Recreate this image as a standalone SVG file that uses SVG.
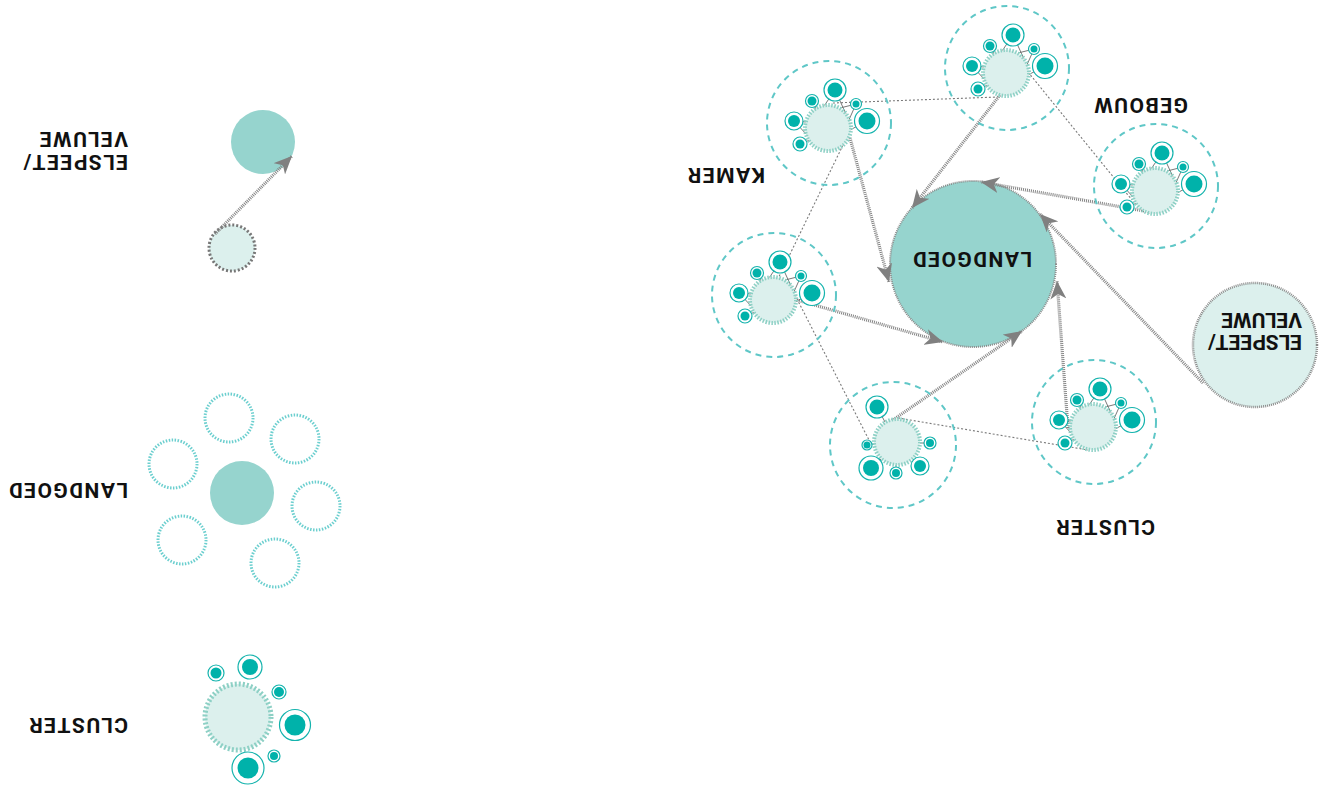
<svg xmlns="http://www.w3.org/2000/svg" xmlns:xlink="http://www.w3.org/1999/xlink" width="1332" height="796" viewBox="0 0 1332 796">
<style>
.lbl{font-family:Roboto,"Liberation Sans",sans-serif;font-weight:700;font-size:21px;letter-spacing:1.5px;fill:#111}
.lbl2{font-family:Roboto,"Liberation Sans",sans-serif;font-weight:700;font-size:21px;letter-spacing:0px;fill:#111}
.outer{fill:none;stroke:#5fc7c7;stroke-width:2;stroke-dasharray:6 5}
.inner{fill:#dcf0ed;stroke:#8dd0c5;stroke-width:4;stroke-dasharray:1.5 1.5}
.ring{fill:#fff;stroke:#14b3ad;stroke-width:1.2}
.dot{fill:#00b2aa}
.sl{stroke:#6a6a6a;stroke-width:0.9;fill:none}
.thick{stroke:#858585;stroke-width:3.2;stroke-dasharray:1 1;fill:none}
.thin{stroke:#7a7a7a;stroke-width:1.1;stroke-dasharray:2 2;fill:none}
.lring{fill:none;stroke:#6ccfcf;stroke-width:3;stroke-dasharray:1.5 1.5}
.solid{fill:#96d4ce}
</style>
<defs>
<marker id="ah" markerWidth="20" markerHeight="16" refX="18" refY="8" orient="auto" markerUnits="userSpaceOnUse">
<path d="M0,0 L18,8 L0,16 L5,8 Z" fill="#808080"/>
</marker>
<g id="clA">
<circle cx="1" cy="-5" r="62" class="outer"/>
<path class="sl" d="M7,-38 L-4,-22 M7,-38 L18,-14 M28,-24 L12,-20 M28,-24 L20,-6 M39,-7 L22,2 M-16,-27 L-12,-19 M-34,-7 L-22,-6 M-34,-7 L-20,8 M-28,16 L-18,12"/>
<circle r="23" class="inner"/>
<circle cx="7" cy="-38" r="11" class="ring"/><circle cx="7" cy="-38" r="7.5" class="dot"/>
<circle cx="-16" cy="-27" r="6.5" class="ring"/><circle cx="-16" cy="-27" r="4.5" class="dot"/>
<circle cx="28" cy="-24" r="5.5" class="ring"/><circle cx="28" cy="-24" r="3.5" class="dot"/>
<circle cx="39" cy="-7" r="12.5" class="ring"/><circle cx="39" cy="-7" r="8.5" class="dot"/>
<circle cx="-34" cy="-7" r="9" class="ring"/><circle cx="-34" cy="-7" r="6" class="dot"/>
<circle cx="-28" cy="16" r="7" class="ring"/><circle cx="-28" cy="16" r="4.5" class="dot"/>
</g>
<g id="clB">
<circle cx="-4" cy="3" r="63" class="outer"/>
<path class="sl" d="M-20,-35 L-12,-20 M-30,3 L-22,2 M33,1 L23,1 M-26,26 L-16,17 M-1,31 L-1,23 M23,24 L15,16"/>
<circle r="23" class="inner"/>
<circle cx="-20" cy="-35" r="11" class="ring"/><circle cx="-20" cy="-35" r="7.5" class="dot"/>
<circle cx="-30" cy="3" r="5" class="ring"/><circle cx="-30" cy="3" r="3.5" class="dot"/>
<circle cx="33" cy="1" r="6" class="ring"/><circle cx="33" cy="1" r="4" class="dot"/>
<circle cx="-26" cy="26" r="12" class="ring"/><circle cx="-26" cy="26" r="8" class="dot"/>
<circle cx="-1" cy="31" r="6" class="ring"/><circle cx="-1" cy="31" r="4" class="dot"/>
<circle cx="23" cy="24" r="9" class="ring"/><circle cx="23" cy="24" r="6" class="dot"/>
</g>
</defs>
<rect width="1332" height="796" fill="#fff"/>

<!-- legend -->
<g id="legend-elspeet">
<circle cx="263" cy="142" r="32" class="solid"/>
<circle cx="232" cy="248" r="23" fill="#dcf0ed" stroke="#777" stroke-width="3" stroke-dasharray="2 2"/>
<line x1="215" y1="234" x2="292" y2="156" class="thick" marker-end="url(#ah)"/>
<text x="128" y="155" class="lbl" transform="rotate(180 128 155)">ELSPEET/</text>
<text x="128" y="132" class="lbl" transform="rotate(180 128 132)">VELUWE</text>
</g>
<g id="legend-landgoed">
<circle cx="242" cy="493" r="32" class="solid"/>
<circle cx="229" cy="418" r="24" class="lring"/>
<circle cx="295" cy="439" r="24" class="lring"/>
<circle cx="316" cy="506" r="24" class="lring"/>
<circle cx="275" cy="563" r="24" class="lring"/>
<circle cx="182" cy="540" r="24" class="lring"/>
<circle cx="173" cy="464" r="24" class="lring"/>
<text x="128" y="483" class="lbl" transform="rotate(180 128 483)">LANDGOED</text>
</g>
<g id="legend-cluster">
<circle cx="238" cy="717" r="33" fill="#dcf0ed" stroke="#8dd0c5" stroke-width="5" stroke-dasharray="2 2"/>
<circle cx="250" cy="667" r="12" class="ring"/><circle cx="250" cy="667" r="8" class="dot"/>
<circle cx="216" cy="673" r="8" class="ring"/><circle cx="216" cy="673" r="5.5" class="dot"/>
<circle cx="279" cy="692" r="7" class="ring"/><circle cx="279" cy="692" r="5" class="dot"/>
<circle cx="295" cy="725" r="15.5" class="ring"/><circle cx="295" cy="725" r="10.5" class="dot"/>
<circle cx="274" cy="756" r="6" class="ring"/><circle cx="274" cy="756" r="4" class="dot"/>
<circle cx="248" cy="768" r="16" class="ring"/><circle cx="248" cy="768" r="10.5" class="dot"/>
<text x="128" y="718" class="lbl" transform="rotate(180 128 718)">CLUSTER</text>
</g>

<!-- main nodes -->
<g id="node-landgoed">
<circle cx="973" cy="264" r="83" fill="#96d4ce" stroke="#8a8a8a" stroke-width="2" stroke-dasharray="1 1"/>
<text x="1032" y="252" class="lbl" transform="rotate(180 1032 252)">LANDGOED</text>
</g>
<g id="node-elspeet">
<circle cx="1255" cy="345" r="62" fill="#dcf0ed" stroke="#8a8a8a" stroke-width="2.5" stroke-dasharray="1 1"/>
<text x="1302" y="335" class="lbl2" transform="rotate(180 1302 335)">ELSPEET/</text>
<text x="1302" y="313" class="lbl2" transform="rotate(180 1302 313)">VELUWE</text>
</g>

<g id="connectors">
<line x1="833" y1="103" x2="998" y2="97" class="thin"/>
<line x1="1028" y1="72" x2="1132" y2="200" class="thin"/>
<line x1="843" y1="145" x2="775" y2="285" class="thin"/>
<line x1="795" y1="295" x2="870" y2="442" class="thin"/>
<line x1="898" y1="418" x2="1088" y2="450" class="thin"/>
<line x1="1000" y1="95" x2="912" y2="208" class="thick" marker-end="url(#ah)"/>
<line x1="850" y1="138" x2="889" y2="282" class="thick" marker-end="url(#ah)"/>
<line x1="797" y1="300" x2="943" y2="342" class="thick" marker-end="url(#ah)"/>
<line x1="890" y1="422" x2="1022" y2="331" class="thick" marker-end="url(#ah)"/>
<line x1="1068" y1="428" x2="1057" y2="281" class="thick" marker-end="url(#ah)"/>
<line x1="1203" y1="383" x2="1040" y2="214" class="thick" marker-end="url(#ah)"/>
<line x1="1150" y1="212" x2="981" y2="182" class="thick" marker-end="url(#ah)"/>
</g>

<g id="node-kamer">
<use xlink:href="#clA" x="828" y="128"/>
<text x="765" y="168" class="lbl" transform="rotate(180 765 168)">KAMER</text>
</g>
<g id="node-top">
<use xlink:href="#clA" x="1006" y="73"/>
</g>
<g id="node-gebouw">
<use xlink:href="#clA" x="1155" y="191"/>
<text x="1188" y="98" class="lbl" transform="rotate(180 1188 98)">GEBOUW</text>
</g>
<g id="node-left">
<use xlink:href="#clA" x="773" y="300"/>
</g>
<g id="node-bottom">
<use xlink:href="#clB" x="897" y="442"/>
</g>
<g id="node-cluster">
<use xlink:href="#clA" x="1093" y="427"/>
<text x="1155" y="520" class="lbl" transform="rotate(180 1155 520)">CLUSTER</text>
</g>
</svg>
